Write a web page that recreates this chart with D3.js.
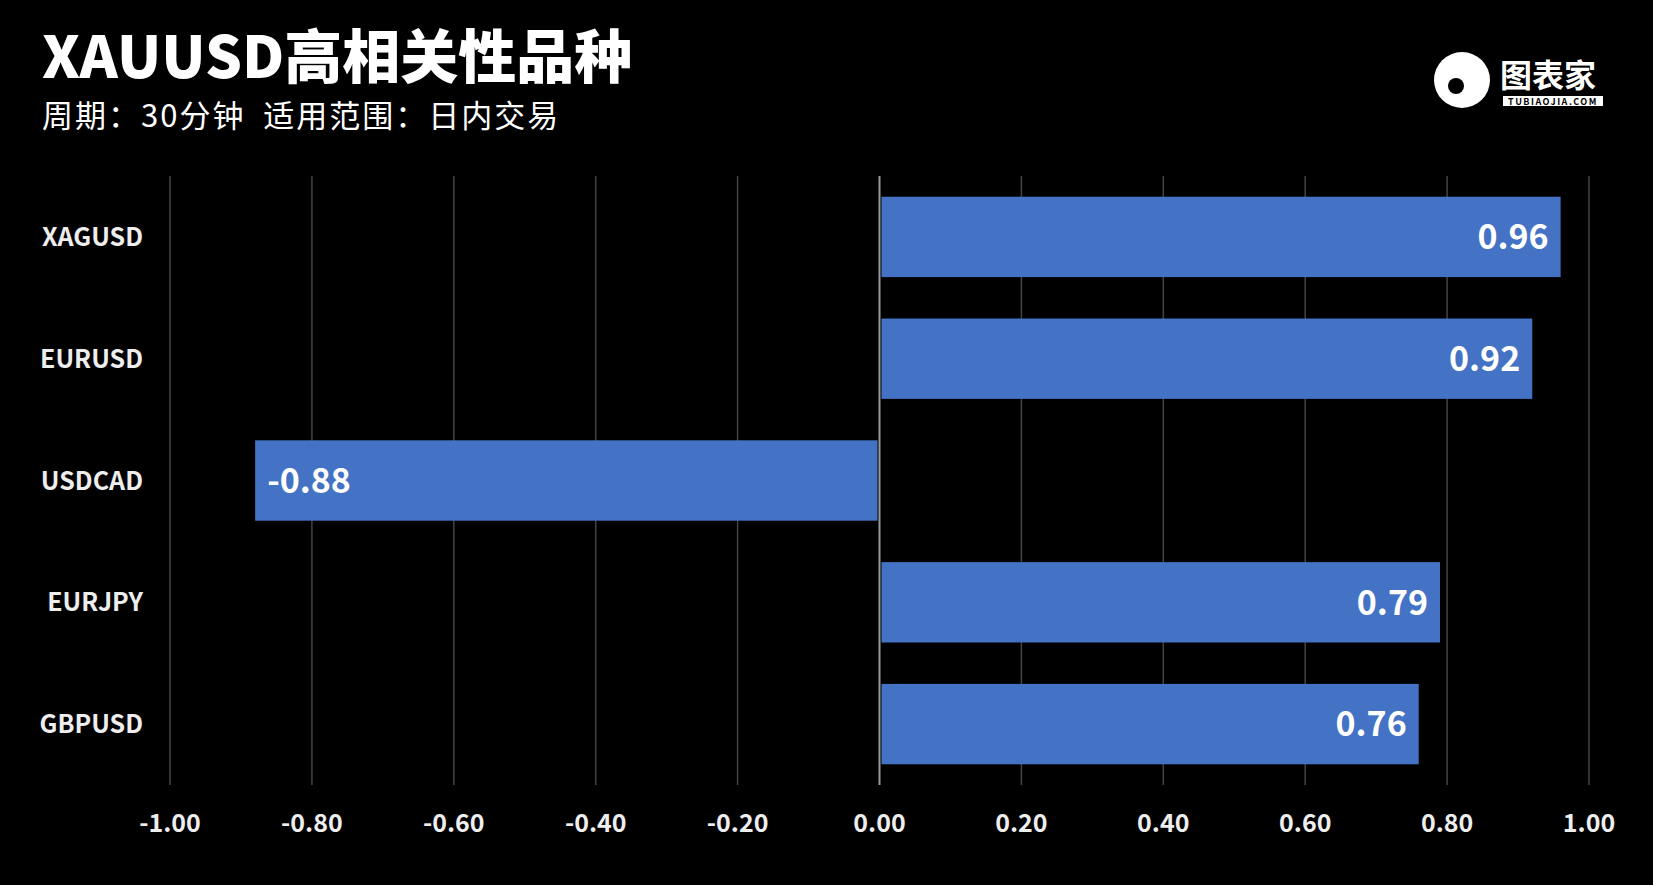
<!DOCTYPE html><html><head><meta charset="utf-8"><script src="https://cdn.jsdelivr.net/npm/d3@7"></script>
<style>body{margin:0;background:#000}</style></head><body><svg id="c" width="1653" height="885"></svg>
<script>
const categories=["XAGUSD","EURUSD","USDCAD","EURJPY","GBPUSD"];
const values=[0.96,0.92,-0.88,0.79,0.76];
const ticks=[-1,-0.8,-0.6,-0.4,-0.2,0,0.2,0.4,0.6,0.8,1];
const svg=d3.select("#c");
svg.append("rect").attr("width",1653).attr("height",885).attr("fill","#000");
const F="'Noto Sans CJK SC','Noto Sans',sans-serif";
const x=d3.scaleLinear().domain([-1,1]).range([170,1589]);
const y=d3.scaleBand().domain(categories).range([176,785]).paddingInner(0.34).paddingOuter(0.17);
svg.append("g").selectAll("line").data(ticks).join("line")
 .attr("x1",d=>x(d)).attr("x2",d=>x(d)).attr("y1",176).attr("y2",785)
 .attr("stroke",d=>d===0?"#999":"#444").attr("stroke-width",d=>d===0?2:1.5);
svg.append("g").selectAll("rect").data(values).join("rect")
 .attr("x",d=>x(Math.min(0,d))+(d>0?2:0)).attr("width",d=>Math.abs(x(d)-x(0))-2)
 .attr("y",(d,i)=>y(categories[i])).attr("height",y.bandwidth()).attr("fill","#4472C4");
svg.append("g").selectAll("text").data(values).join("text")
 .attr("x",d=>d>0?x(d)-12:x(d)+12).attr("text-anchor",d=>d>0?"end":"start")
 .attr("y",(d,i)=>y(categories[i])+y.bandwidth()/2).attr("dy","0.36em")
 .attr("fill","#fff").attr("font-family",F).attr("font-weight","bold").attr("font-size",34)
 .text(d=>d.toFixed(2));
svg.append("g").selectAll("text").data(categories).join("text")
 .attr("x",143).attr("text-anchor","end").attr("y",d=>y(d)+y.bandwidth()/2).attr("dy","0.36em")
 .attr("fill","#eee").attr("font-family",F).attr("font-weight","bold").attr("font-size",25).text(d=>d);
svg.append("g").selectAll("text").data(ticks).join("text")
 .attr("x",d=>x(d)).attr("y",823).attr("dy","0.36em").attr("text-anchor","middle")
 .attr("fill","#eee").attr("font-family",F).attr("font-weight","bold").attr("font-size",25).text(d=>d.toFixed(2));
svg.append("text").attr("x",42).attr("y",78).attr("fill","#fff").attr("font-family",F).attr("font-weight","900").attr("font-size",58).text("XAUUSD高相关性品种");
svg.append("text").attr("x",42).attr("y",127).attr("fill","#fff").attr("font-family",F).attr("font-size",31).attr("letter-spacing",2).text("周期：30分钟\u00a0\u00a0适用范围：日内交易");
const lg=svg.append("g");
lg.append("ellipse").attr("cx",1462).attr("cy",80).attr("rx",28).attr("ry",28).attr("fill","#fff");
lg.append("circle").attr("cx",1456).attr("cy",86).attr("r",8).attr("fill","#000");
lg.append("text").attr("x",1500).attr("y",87).attr("fill","#fff").attr("font-family",F).attr("font-weight","bold").attr("font-size",32).text("图表家");
lg.append("rect").attr("x",1503).attr("y",96).attr("width",100).attr("height",10).attr("fill","#fff");
lg.append("text").attr("x",1553).attr("y",104.5).attr("text-anchor","middle").attr("fill","#000").attr("font-family",F).attr("font-weight","bold").attr("font-size",9).attr("letter-spacing",1.5).text("TUBIAOJIA.COM");
</script></body></html>
